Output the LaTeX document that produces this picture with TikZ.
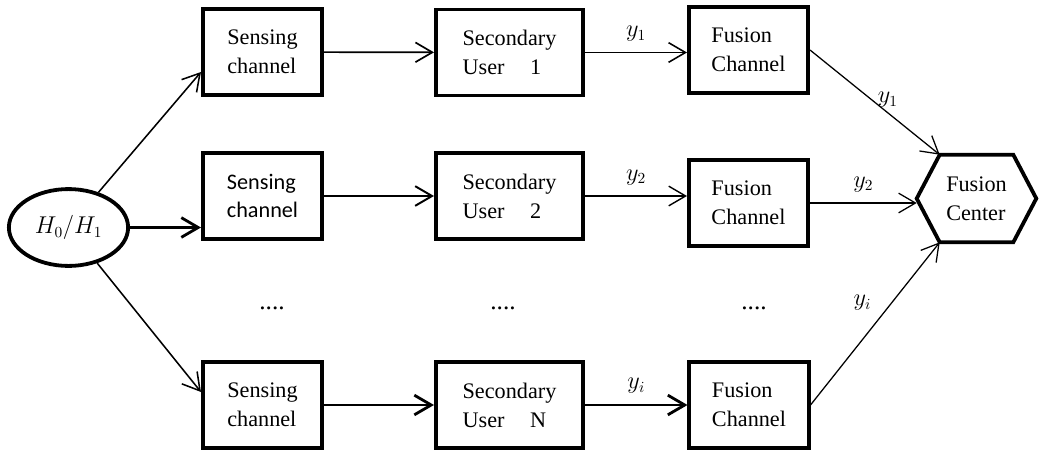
\documentclass[tikz,border=0pt]{standalone}
\usepackage{fontspec}
\setmainfont{Liberation Serif}
\newfontfamily\calibri{Carlito}
\usetikzlibrary{arrows.meta, shapes.geometric}

\tikzset{
  blk/.style = {draw, line width = 2.7pt, minimum width = 2.98cm, minimum height = 2.15cm, inner sep = 0pt, align = left, font = \fontsize{15.8}{20.5}\selectfont},
  ublk/.style = {blk, minimum width = 3.68cm},
  hyp/.style = {draw, ellipse, line width = 2.7pt, minimum width = 2.98cm, minimum height = 1.92cm, inner sep = 0pt, font = \fontsize{16}{19}\selectfont},
  hexa/.style = {minimum width = 2.975cm, minimum height = 2.175cm, inner sep = 0pt, align = left, font = \fontsize{15.8}{20.5}\selectfont},
  lnk/.style = {-{Straight Barb[length = 12pt, width = 14pt]}},
  lab/.style = {font = \fontsize{16}{19}\selectfont},
  dotlab/.style = {anchor = base, font = \fontsize{18}{20}\selectfont}
}

\begin{document}
\begin{tikzpicture}[x = .025cm, y = -.025cm]
  \useasboundingbox (0, 0) rectangle (1040, 454);

  %%source
  \node[hyp] (h) at (68.5, 227.5) {$H_0/H_1$\hspace{16pt}};

  %%row1
  \node[blk] (sen1) at (262.5, 52) {Sensing\\channel};
  \node[ublk] (sec1) at (509.5, 52.5) {Secondary\\User\hspace{1.15em}1};
  \node[blk] (fus1) at (748.5, 50) {Fusion\\Channel};

  %%row2
  \node[blk, font = \calibri\fontsize{15.8}{20}\selectfont] (sen2) at (262.5, 196) {Sensing\\channel};
  \node[ublk] (sec2) at (509.5, 196) {Secondary\\User\hspace{1.15em}2};
  \node[blk] (fus2) at (748.5, 203) {Fusion\\Channel};

  %%row3
  \node[blk] (sen3) at (262.5, 405) {Sensing\\channel};
  \node[ublk] (sec3) at (509.5, 405) {Secondary\\User\hspace{1.15em}N};
  \node[blk] (fus3) at (749, 405) {Fusion\\Channel};

    \node[dotlab] (dt1) at (272, 309) {....};
    \node[dotlab] (dt2) at (503, 309) {....};
    \node[dotlab] (dt3) at (754, 309) {....};

  %%center
  \node[hexa] (fc) at (976.5, 198.5) {Fusion\\Center};
  \draw[line width = 2.7pt](fc.west) -- ([xshift = .575cm]fc.north west) -- ([xshift = -.575cm]fc.north east) -- (fc.east) -- ([xshift = -.575cm]fc.south east) -- ([xshift = .575cm]fc.south west) -- cycle;

  %%links
  \draw[lnk, line width = 1.1pt](h) to ([yshift = -.5cm]sen1.west);
  \draw[lnk, line width = 2pt](h.east) to (h.east -| sen2.west);
  \draw[lnk, line width = 1.1pt](h) to ([yshift = .325cm]sen3.west);

    \draw[lnk, line width = 1.2pt](sen1) to (sec1);
    \draw[lnk, line width = 1.4pt](sen2) to (sec2);
    \draw[lnk, line width = 2pt](sen3) to (sec3);

      \draw[lnk, line width = 1.1pt](sec1.east) to node[lab, above = 4pt] (ya1) {$y_1$} (sec1.east -| fus1.west);
      \draw[lnk, line width = 1pt](sec2.east) to node[lab, above = 4pt] (ya2) {$y_2$} (sec2.east -| fus2.west);
      \draw[lnk, line width = 2pt](sec3.east) to node[lab, above = 4pt] (ya3) {$y_i$} (sec3.east -| fus3.west);

        \draw[lnk, line width = .9pt](fus1.east) to node[lab, pos = .6, above] (yb1) {$y_1$} ([xshift = .575cm]fc.north west);
        \draw[lnk, line width = .9pt](fus2.east) to node[lab, above = 4pt] (yb2) {$y_2$} (fus2.east -| fc.west);
        \draw[lnk, line width = .9pt](fus3.east) to node[lab, pos = .63, left = 11pt] (yb3) {$y_i$} ([xshift = .575cm]fc.south west);

\end{tikzpicture}
\end{document}
